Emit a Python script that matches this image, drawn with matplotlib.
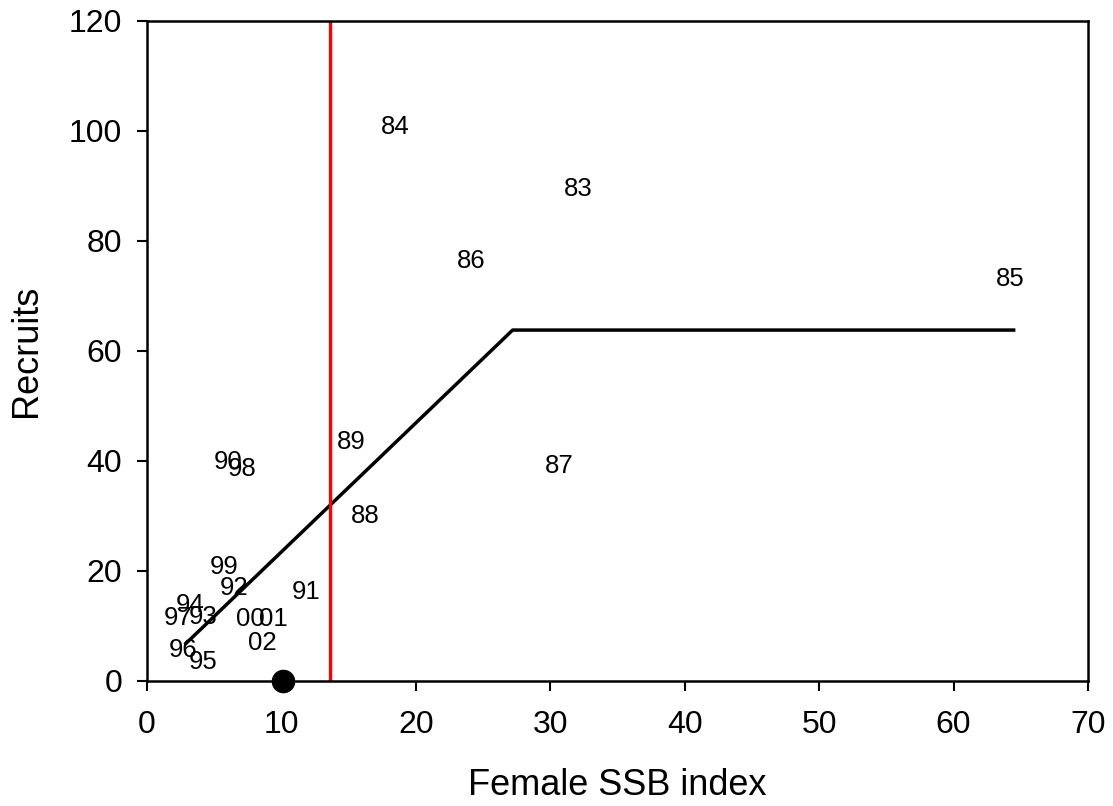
import matplotlib.pyplot as plt

plt.rcParams['font.family'] = ['Liberation Sans', 'DejaVu Sans']

# year labels placed at (SSB index, recruits)
years = ['84', '83', '86', '85', '89', '87', '88', '90', '98', '99', '92', '91',
         '94', '97', '93', '00', '01', '02', '96', '95']
ssb = [18.5, 32.1, 24.1, 64.2, 15.2, 30.7, 16.2, 6.0, 7.1, 5.7, 6.5, 11.8,
       3.2, 2.3, 4.2, 7.7, 9.4, 8.6, 2.7, 4.2]
recruits = [100.7, 89.5, 76.4, 73.1, 43.5, 39.1, 30.0, 39.8, 38.5, 20.7, 16.9, 16.2,
            13.8, 11.5, 11.6, 11.3, 11.3, 6.9, 5.6, 3.5]

# hockey-stick fit
stick_x = [2.8, 27.2, 64.6]
stick_y = [6.6, 63.8, 63.8]

blim = 13.6
current_ssb = 10.1

fig = plt.figure(figsize=(11.13, 8.06), dpi=100)
ax = fig.add_axes([0.1321, 0.1551, 0.8454, 0.8189])

for lab, x, y in zip(years, ssb, recruits):
    ax.text(x, y, lab, ha='center', va='center', fontsize=18.5)

ax.plot(stick_x, stick_y, color='black', lw=2.5, solid_capstyle='butt')
ax.plot([blim, blim], [0, 120], color='red', lw=2.5)
ax.plot([current_ssb], [0], 'o', color='black', markersize=16, clip_on=False, zorder=5)

ax.set_xlim(0, 70)
ax.set_ylim(0, 120)
ax.set_xticks(range(0, 71, 10))
ax.set_yticks(range(0, 121, 20))
ax.tick_params(direction='out', length=7, width=1.5, labelsize=23)
ax.tick_params(axis='x', pad=14)
ax.tick_params(axis='y', pad=11)
for s in ax.spines.values():
    s.set_linewidth(1.8)

ax.set_xlabel('Female SSB index', fontsize=26, labelpad=20)
ax.set_ylabel('Recruits', fontsize=26, labelpad=18)

fig.savefig('out.png', dpi=100)
